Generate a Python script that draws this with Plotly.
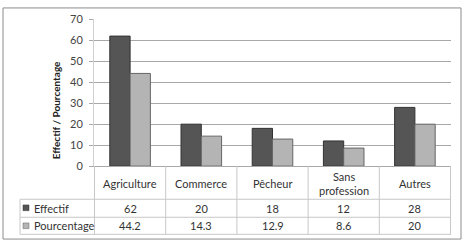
import plotly.graph_objects as go

categories = ["Agriculture", "Commerce", "Pêcheur", "Sans<br>profession", "Autres"]
effectif = [62, 20, 18, 12, 28]
pourcentage = [44.2, 14.3, 12.9, 8.6, 20]
effectif_labels = ["62", "20", "18", "12", "28"]
pourcentage_labels = ["44.2", "14.3", "12.9", "8.6", "20"]
series_names = ["Effectif", "Pourcentage"]
y_ticks = [0, 10, 20, 30, 40, 50, 60, 70]

W, H = 463, 246
def px(x):
    return x / W
def py(y):
    return 1 - y / H

DARK = "#555555"
LIGHT = "#b4b4b4"
TXT = "#333333"
FONT = "Lato"

fig = go.Figure()
fig.add_trace(go.Bar(x=categories, y=effectif, name=series_names[0],
                     marker=dict(color=DARK, line=dict(color="#333333", width=1))))
fig.add_trace(go.Bar(x=categories, y=pourcentage, name=series_names[1],
                     marker=dict(color=LIGHT, line=dict(color="#666666", width=1))))

x0p, x1p = px(94), px(451)
ytop, ybot = py(13), py(168)

shapes = []
# outer border
shapes.append(dict(type="rect", xref="paper", yref="paper", x0=px(3), x1=px(461), y0=py(245), y1=py(1),
                   line=dict(color="#8c8c8c", width=1)))
TL = "#c8c8c8"
# table horizontal lines
shapes.append(dict(type="line", xref="paper", yref="paper", x0=px(20), x1=x1p, y0=py(203), y1=py(203), line=dict(color=TL, width=1)))
shapes.append(dict(type="line", xref="paper", yref="paper", x0=px(20), x1=x1p, y0=py(222), y1=py(222), line=dict(color=TL, width=1)))
shapes.append(dict(type="line", xref="paper", yref="paper", x0=px(20), x1=x1p, y0=py(240), y1=py(240), line=dict(color=TL, width=1)))
shapes.append(dict(type="line", xref="paper", yref="paper", x0=px(20), x1=px(20), y0=py(203), y1=py(240), line=dict(color=TL, width=1)))
# vertical lines at category boundaries
n = len(categories)
for i in range(n + 1):
    shapes.append(dict(type="line", xref="x", yref="paper", x0=i - 0.5, x1=i - 0.5, y0=py(240), y1=ybot,
                       line=dict(color=TL, width=1)))
# legend keys
shapes.append(dict(type="rect", xref="paper", yref="paper", x0=px(23), x1=px(29), y0=py(215), y1=py(209),
                   fillcolor=DARK, line=dict(color="#333333", width=0.5)))
shapes.append(dict(type="rect", xref="paper", yref="paper", x0=px(23), x1=px(29), y0=py(234), y1=py(228),
                   fillcolor=LIGHT, line=dict(color="#666666", width=0.5)))

ann = []
for i, c in enumerate(categories):
    ann.append(dict(x=c, xref="x", y=py(186), yref="paper", text=c, showarrow=False,
                    font=dict(size=11, color=TXT, family=FONT), yanchor="middle"))
    ann.append(dict(x=c, xref="x", y=py(212.5), yref="paper", text=effectif_labels[i], showarrow=False,
                    font=dict(size=11, color=TXT, family=FONT), yanchor="middle"))
    ann.append(dict(x=c, xref="x", y=py(231), yref="paper", text=pourcentage_labels[i], showarrow=False,
                    font=dict(size=11, color=TXT, family=FONT), yanchor="middle"))
ann.append(dict(x=px(32), xref="paper", y=py(212.5), yref="paper", text=series_names[0], showarrow=False,
                xanchor="left", font=dict(size=11, color=TXT, family=FONT), yanchor="middle"))
ann.append(dict(x=px(32), xref="paper", y=py(231), yref="paper", text=series_names[1], showarrow=False,
                xanchor="left", font=dict(size=11, color=TXT, family=FONT), yanchor="middle"))
ann.append(dict(x=px(56), xref="paper", y=py(109), yref="paper", text="<b>Effectif / Pourcentage</b>",
                textangle=-90, showarrow=False, xanchor="center", yanchor="middle",
                font=dict(size=10, color="#222222", family=FONT)))

fig.update_layout(
    width=W, height=H, margin=dict(l=0, r=0, t=0, b=0),
    paper_bgcolor="white", plot_bgcolor="white",
    barmode="group", bargap=0.43, bargroupgap=0,
    showlegend=False,
    shapes=shapes, annotations=ann,
    xaxis=dict(domain=[x0p, x1p], showticklabels=False, showgrid=False, zeroline=False,
               showline=True, linecolor="#a8a8a8", linewidth=1, ticks=""),
    yaxis=dict(domain=[ybot, ytop], range=[0, 70], tickvals=y_ticks, showgrid=True,
               gridcolor="#a8a8a8", gridwidth=1, zeroline=False,
               showline=True, linecolor="#d0d0d0", ticks="outside", ticklen=4, tickcolor="#a8a8a8",
               tickfont=dict(size=11, color="#444444", family=FONT), ticklabelstandoff=4),
)
fig.write_html("out.html")
